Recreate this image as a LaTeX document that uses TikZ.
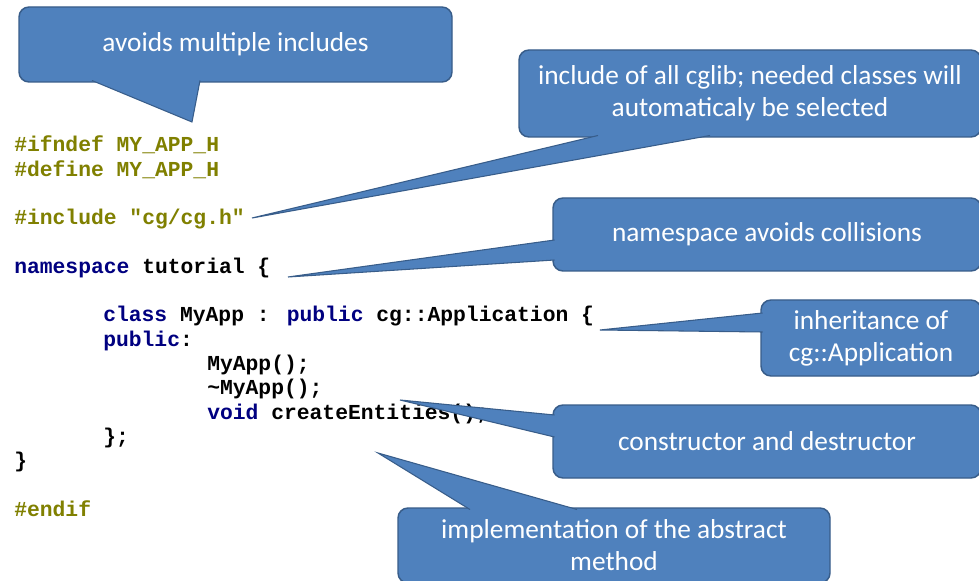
\documentclass[tikz,border=0pt]{standalone}
\usepackage{fontspec}
\setmainfont{Carlito}
\newfontfamily\codefont{Liberation Mono}
\usetikzlibrary{calc}
\definecolor{noteFill}{HTML}{4F81BD}
\definecolor{noteLine}{HTML}{385D8A}
\definecolor{prepro}{HTML}{808000}
\definecolor{keyword}{HTML}{000080}
\newcommand{\kw}[1]{\textcolor{keyword}{#1}}

\begin{document}
\begin{tikzpicture}[x=0.75pt, y=-0.75pt,
  note/.style={rectangle, rounded corners=7.5pt, draw=noteLine, line width=1.1pt, fill=noteFill,
    text=white, align=center, inner sep=0pt, outer sep=0pt,
    font=\fontsize{20.5}{24}\selectfont},
  tail/.style={draw=noteLine, line width=0.8pt, fill=noteFill, line join=miter},
  codeline/.style={anchor=base west, inner sep=0pt, font=\codefont\bfseries\fontsize{16}{16}\selectfont}]
  \path[use as bounding box, fill=white] (0,0) rectangle (979,581);

  % source listing
  \node[codeline, text=prepro] (cIfndef) at (14,152) {\#ifndef MY\_APP\_H};
  \node[codeline, text=prepro] (cDefine) at (14,176.3) {\#define MY\_APP\_H};
  \node[codeline, text=prepro] (cInclude) at (14,224.8) {\#include "cg/cg.h"};
  \node[codeline] (cNamespace) at (14,273.4) {\kw{namespace} tutorial \{};
  \node[codeline] (cClass) at (103,321.9) {\kw{class} MyApp : \kw{public} cg::Application \{};
  \node[codeline] (cPublic) at (103,346.2) {\kw{public}:};
  \node[codeline] (cCtor) at (207,370.4) {MyApp();};
  \node[codeline] (cDtor) at (207,394.7) {\textasciitilde MyApp();};
  \node[codeline] (cCreate) at (207,419) {\kw{void} createEntities();};
  \node[codeline] (cClose) at (103,443.2) {\};};
  \node[codeline] (cNsClose) at (14,467.5) {\}};
  \node[codeline, text=prepro] (cEndif) at (14,516.1) {\#endif};

  % callouts
  \coordinate (tipGuard) at (192,122);
  \coordinate (tipLib) at (252,218);
  \coordinate (tipNs) at (288,277);
  \coordinate (tipInh) at (600,330);
  \coordinate (tipCtor) at (400,400);
  \coordinate (tipImpl) at (378,453);

  \node[note, minimum width=324.75pt, minimum height=56.25pt] (noteGuard) at (235.5,44.5)
    {avoids multiple includes};
  \filldraw[tail] ($(noteGuard.south west)+(73,-1.5)$) -- (tipGuard) -- ($(noteGuard.south west)+(181,-1.5)$);

  \node[note, minimum width=346.5pt, minimum height=65.25pt] (noteLib) at (750,93.5)
    {include of all cglib; needed classes will\\automaticaly be selected};
  \filldraw[tail] ($(noteLib.south west)+(79,-1.5)$) -- (tipLib) -- ($(noteLib.south west)+(191,-1.5)$);

  \node[note, minimum width=321pt, minimum height=54.75pt] (noteNs) at (767,234.5)
    {namespace avoids collisions};
  \filldraw[tail] ($(noteNs.north west)+(1.5,42)$) -- (tipNs) -- ($(noteNs.north west)+(1.5,62)$);

  \node[note, minimum width=165pt, minimum height=57pt] (noteInh) at (871,338)
    {inheritance of\\cg::Application};
  \filldraw[tail] ($(noteInh.north west)+(1.5,13)$) -- (tipInh) -- ($(noteInh.north west)+(1.5,32)$);

  \node[note, minimum width=321pt, minimum height=54.75pt] (noteCtor) at (767,441.5)
    {constructor and destructor};
  \filldraw[tail] ($(noteCtor.north west)+(1.5,10)$) -- (tipCtor) -- ($(noteCtor.north west)+(1.5,32)$);

  \node[note, minimum width=324pt, minimum height=56.25pt] (noteImpl) at (614,545.5)
    {implementation of the abstract\\method};
  \filldraw[tail] ($(noteImpl.north west)+(72,1.5)$) -- (tipImpl) -- ($(noteImpl.north west)+(179,1.5)$);
\end{tikzpicture}
\end{document}
